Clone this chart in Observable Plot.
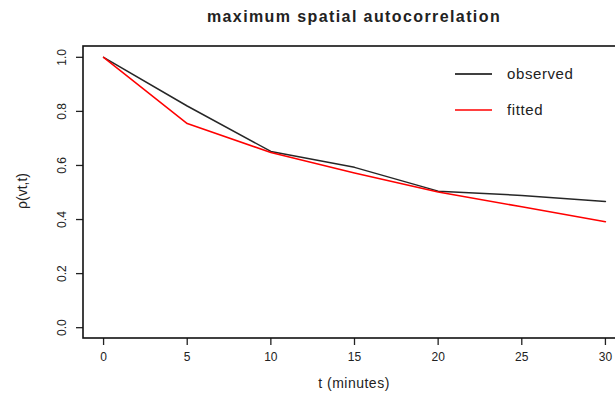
<!DOCTYPE html>
<html>
<head>
<meta charset="utf-8">
<script src="https://cdn.jsdelivr.net/npm/d3@7"></script>
<script src="https://cdn.jsdelivr.net/npm/@observablehq/plot@0.6"></script>
<style>
  html, body { margin: 0; padding: 0; background: #fff; }
  svg { font-family: "Liberation Sans", Arial, Helvetica, sans-serif; }
</style>
</head>
<body>
<div id="chart"></div>
<script>
// ---- data ----
const minutes = [0, 5, 10, 15, 20, 25, 30];
const observed = [1.0, 0.82, 0.652, 0.593, 0.505, 0.489, 0.467];
const fitted = [1.0, 0.755, 0.648, 0.572, 0.502, 0.447, 0.392];
const xTicks = [0, 5, 10, 15, 20, 25, 30];
const yTicks = [0.0, 0.2, 0.4, 0.6, 0.8, 1.0];
const seriesNames = ["observed", "fitted"];
const seriesColors = ["#000000", "#ff0000"];

const titleText = "maximum spatial autocorrelation";
const xLabel = "t (minutes)";
const yLabel = "ρ(vt,t)";

const obsData = minutes.map((t, i) => ({t, v: observed[i]}));
const fitData = minutes.map((t, i) => ({t, v: fitted[i]}));

// R-style 4% padding on both scales
const xPad = (d3.max(minutes) - d3.min(minutes)) * 0.04;
const yPad = 0.04;
const xDom = [d3.min(minutes) - xPad, d3.max(minutes) + xPad];
const yDom = [0 - yPad, 1 + yPad];
const box = [{x1: xDom[0], x2: xDom[1], y1: yDom[0], y2: yDom[1]}];

const W = 615, H = 393;
const chart = Plot.plot({
  width: W,
  height: H,
  marginLeft: 83,
  marginRight: 0,
  marginTop: 46,
  marginBottom: 55,
  style: {fontFamily: "Liberation Sans, Arial, sans-serif", background: "#fff", overflow: "hidden"},
  x: {domain: xDom, range: [83, 625]},
  y: {domain: yDom, range: [338, 46]},
  marks: [
    Plot.axisX({ticks: xTicks, tickSize: 7, tickPadding: 7, tickFormat: d => String(d), label: null, fontSize: 12, stroke: "#222", strokeWidth: 1.3, fill: "#222"}),
    Plot.axisY({ticks: yTicks, tickSize: 7, tickPadding: 11, tickRotate: -90, tickFormat: d => d.toFixed(1), label: null, fontSize: 12, stroke: "#222", strokeWidth: 1.3, fill: "#222"}),
    Plot.rect(box, {x1: "x1", x2: "x2", y1: "y1", y2: "y2", fill: "none", stroke: "#111", strokeWidth: 1.6}),
    Plot.line(obsData, {x: "t", y: "v", stroke: seriesColors[0], strokeWidth: 1.5, strokeOpacity: 0.85}),
    Plot.line(fitData, {x: "t", y: "v", stroke: seriesColors[1], strokeWidth: 1.5})
  ]
});

const svg = d3.select(chart);
// title
svg.append("text")
  .attr("x", 354).attr("y", 22)
  .attr("text-anchor", "middle")
  .attr("font-size", 16).attr("font-weight", "bold")
  .attr("letter-spacing", "1.4px")
  .attr("fill", "#222")
  .text(titleText);
// x label
svg.append("text")
  .attr("x", 354).attr("y", 388)
  .attr("text-anchor", "middle")
  .attr("font-size", 14).attr("letter-spacing", "0.5px")
  .attr("fill", "#222")
  .text(xLabel);
// y label
svg.append("text")
  .attr("transform", "translate(27,191) rotate(-90)")
  .attr("text-anchor", "middle")
  .attr("font-size", 14)
  .attr("fill", "#222")
  .text(yLabel);
// legend
const legY = [74, 110];
seriesNames.forEach((name, i) => {
  svg.append("line")
    .attr("x1", 455).attr("x2", 492)
    .attr("y1", legY[i]).attr("y2", legY[i])
    .attr("stroke", seriesColors[i]).attr("stroke-width", 1.5);
  svg.append("text")
    .attr("x", 507).attr("y", legY[i] + 5)
    .attr("text-anchor", "start")
    .attr("font-size", 15).attr("letter-spacing", "0.6px")
    .attr("fill", "#222")
    .text(name);
});

document.getElementById("chart").appendChild(chart);
</script>
</body>
</html>
